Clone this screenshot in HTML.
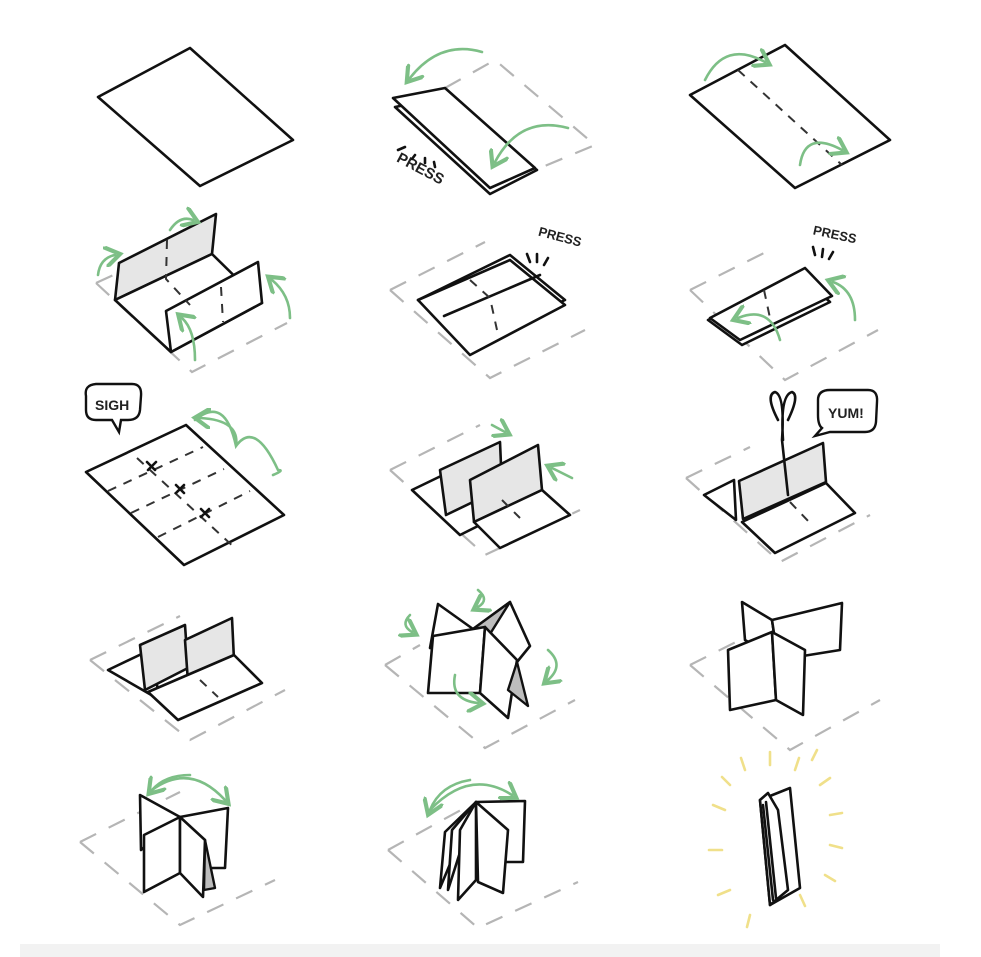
<!DOCTYPE html>
<html><head><meta charset="utf-8"><style>
html,body{margin:0;padding:0;background:#fff}
svg{display:block}
.k{fill:none;stroke:#111;stroke-width:2.6;stroke-linejoin:round;stroke-linecap:round}
.w{fill:#fff;stroke:#111;stroke-width:2.6;stroke-linejoin:round}
.g{fill:#e6e6e6;stroke:#111;stroke-width:2.6;stroke-linejoin:round}
.dg{fill:#bdbdbd;stroke:#111;stroke-width:2.4;stroke-linejoin:round}
.d{fill:none;stroke:#333;stroke-width:2;stroke-dasharray:9 8}
.o{fill:none;stroke:#b5b5b5;stroke-width:2.2;stroke-dasharray:18 14}
.a{fill:none;stroke:#7dbf86;stroke-width:2.6;stroke-linecap:round}
.y{fill:none;stroke:#f0e08a;stroke-width:2.6;stroke-linecap:round}
text{font-family:"Liberation Sans",sans-serif;font-weight:bold;fill:#222}
</style></head><body>
<svg width="981" height="957" viewBox="0 0 981 957">
<defs><marker id="ah" markerWidth="8" markerHeight="8" refX="4" refY="4" orient="auto"><path d="M0,0 L6,4 L0,8" fill="none" stroke="#7dbf86" stroke-width="1.6"/></marker></defs>
<rect x="20" y="944" width="920" height="13" fill="#f2f2f2"/>

<!-- Row 1 -->
<path class="w" d="M98,97 L190,48 L293,140 L200,186 Z"/>

<path class="o" d="M445,88 L495,60 L595,145 L540,168"/>
<path class="w" d="M395,107 L445,97 L537,170 L490,194 Z" fill="#ddd"/>
<path class="w" d="M393,98 L445,88 L535,168 L490,188 Z"/>
<path class="a" d="M482,52 Q440,40 410,78" marker-end="url(#ah)"/>
<path class="a" d="M568,128 Q520,115 495,162" marker-end="url(#ah)"/>
<text x="392" y="168" font-size="15" transform="rotate(28 408 172)">PRESS</text>
<path class="k" d="M405,147 l-7,3 M415,155 l-3,4 M425,158 l0,5 M434,162 l1,5" stroke-width="1.6"/>

<path class="w" d="M690,95 L785,45 L890,140 L795,188 Z"/>
<path class="d" d="M738,70 L842,165"/>
<path class="a" d="M705,80 Q725,40 765,62" marker-end="url(#ah)"/>
<path class="a" d="M800,165 Q805,130 842,150" marker-end="url(#ah)"/>

<!-- Row 2 -->
<path class="o" d="M96,283 L190,240 M96,283 L192,372 L287,323"/>
<path class="g" d="M115,300 L119,263 L216,214 L212,254 Z"/>
<path class="w" d="M115,300 L212,254 L262,303 L171,352 Z"/>
<path class="w" d="M171,352 L166,311 L258,262 L262,303 Z"/>
<path class="d" d="M167,240 L166,279 L190,305"/>
<path class="d" d="M221,287 L223,322"/>
<path class="a" d="M98,275 Q100,258 115,255" marker-end="url(#ah)"/>
<path class="a" d="M170,230 Q180,215 193,220" marker-end="url(#ah)"/>
<path class="a" d="M195,360 Q195,330 182,318" marker-end="url(#ah)"/>
<path class="a" d="M290,318 Q290,295 272,280" marker-end="url(#ah)"/>

<path class="o" d="M390,290 L485,242 M390,290 L490,378 L585,330"/>
<path class="w" d="M418,300 L510,255 L565,300 L470,345 Z"/>
<path class="w" d="M418,300 L510,260 L565,305 L470,355 Z"/>
<path class="k" d="M444,316 L540,275"/>
<path class="d" d="M470,280 L490,298 L497,330"/>
<text x="537" y="240" font-size="13" transform="rotate(15 555 240)">PRESS</text>
<path class="k" d="M530,262 l-3,-8 M537,262 l0,-8 M544,265 l4,-7" stroke-width="1.6"/>

<path class="o" d="M690,290 L770,250 M690,290 L785,380 L878,330"/>
<path class="w" d="M708,320 L800,275 L830,302 L742,345 Z" fill="#eee"/>
<path class="w" d="M710,318 L805,268 L832,296 L740,340 Z"/>
<path class="d" d="M764,290 L770,318"/>
<path class="a" d="M855,320 Q855,290 833,282" marker-end="url(#ah)"/>
<path class="a" d="M780,340 Q770,305 738,318" marker-end="url(#ah)"/>
<text x="812" y="238" font-size="13" transform="rotate(12 830 238)">PRESS</text>
<path class="k" d="M815,255 l-2,-8 M822,257 l1,-8 M829,259 l4,-7" stroke-width="1.6"/>

<!-- Row 3 -->
<path d="M86,396 Q84,385 96,384 L132,384 Q142,384 141,396 L140,410 Q139,420 128,420 L121,420 L119,432 L112,420 L96,420 Q86,420 86,410 Z" fill="#fff" stroke="#111" stroke-width="2.4"/>
<text x="95" y="410" font-size="14">SIGH</text>
<path class="w" d="M86,472 L186,425 L284,515 L184,565 Z"/>
<path class="d" d="M108,491 L203,447 M131,513 L224,469 M158,537 L250,491"/>
<path class="d" d="M137,458 L235,548"/>
<path class="k" d="M147,462 l8,8 M156,462 l-8,8 M176,485 l8,8 M184,485 l-8,8 M201,509 l8,8 M209,509 l-8,8" stroke-width="2"/>
<path class="a" d="M195,420 Q225,395 236,446 Q255,420 278,470 Q285,470 273,475 M236,446 Q240,420 200,418" marker-end="url(#ah)"/>

<path class="o" d="M390,470 L480,425 M390,470 L485,555 L580,510"/>
<path class="w" d="M412,490 L470,462 L520,505 L460,535 Z"/>
<path class="g" d="M440,470 L500,442 L502,488 L446,515 Z"/>
<path class="g" d="M470,480 L538,445 L542,490 L474,522 Z"/>
<path class="w" d="M474,522 L542,490 L570,515 L500,548 Z"/>
<path class="d" d="M502,500 L520,518"/>
<path class="a" d="M492,425 L505,432" marker-end="url(#ah)"/>
<path class="a" d="M572,478 L552,468" marker-end="url(#ah)"/>

<path class="o" d="M686,478 L750,447 M686,478 L780,562 L870,515"/>
<path class="w" d="M704,495 L734,480 L736,520 Z"/>
<path class="g" d="M739,481 L823,443 L826,482 L743,519 Z"/>
<path class="w" d="M742,522 L826,483 L855,513 L775,553 Z"/>
<path class="d" d="M790,502 L810,523"/>
<path class="k" d="M778,420 Q765,395 775,392 Q785,395 782,440 M788,420 Q800,395 792,392 Q780,395 783,440 M782,440 L788,495" stroke-width="3"/>
<path d="M818,400 Q818,390 830,390 L868,390 Q878,390 877,402 L876,422 Q875,432 865,432 L830,432 L815,436 L822,428 Q818,425 818,415 Z" fill="#fff" stroke="#111" stroke-width="2.4"/>
<text x="828" y="418" font-size="14">YUM!</text>

<!-- Row 4 -->
<path class="o" d="M90,660 L180,616 M90,660 L190,740 L285,690"/>
<path class="w" d="M108,670 L150,650 L160,700 Z"/>
<path class="g" d="M140,645 L185,625 L188,668 L145,690 Z"/>
<path class="g" d="M185,640 L232,618 L234,660 L188,682 Z"/>
<path class="w" d="M148,692 L234,655 L262,683 L178,720 Z"/>
<path class="d" d="M200,680 L218,697"/>

<path class="o" d="M385,665 L420,645 M385,665 L485,748 L575,700"/>
<path class="w" d="M438,604 L473,629 L430,648 Z"/>
<path class="w" d="M473,629 L510,602 L530,646 L517,662 Z"/>
<path class="dg" d="M473,629 L510,602 L480,650 Z"/>
<path class="w" d="M433,636 L485,627 L480,693 L428,693 Z"/>
<path class="w" d="M485,627 L517,660 L508,718 L480,693 Z"/>
<path class="dg" d="M517,662 L528,706 L508,690 Z"/>
<path class="a" d="M410,615 Q400,625 412,632" marker-end="url(#ah)"/>
<path class="a" d="M478,590 Q490,600 478,607" marker-end="url(#ah)"/>
<path class="a" d="M548,650 Q565,665 548,680" marker-end="url(#ah)"/>
<path class="a" d="M455,675 Q450,700 478,703" marker-end="url(#ah)"/>

<path class="o" d="M690,665 L760,630 M690,665 L790,750 L880,700"/>
<path class="w" d="M742,602 L772,620 L778,660 L745,640 Z"/>
<path class="w" d="M772,620 L842,603 L840,650 L778,660 Z"/>
<path class="w" d="M728,650 L772,632 L776,700 L730,710 Z"/>
<path class="w" d="M772,632 L805,650 L803,715 L776,700 Z"/>

<!-- Row 5 -->
<path class="o" d="M80,842 L180,792 M80,842 L180,925 L275,880"/>
<path class="w" d="M140,795 L180,817 L141,850 Z"/>
<path class="w" d="M180,817 L228,808 L225,868 L205,868 Z"/>
<path class="dg" d="M205,840 L215,888 L204,890 Z"/>
<path class="w" d="M144,835 L180,817 L180,873 L144,892 Z"/>
<path class="w" d="M180,817 L205,840 L203,897 L180,873 Z"/>
<path class="a" d="M152,790 Q190,762 225,800" marker-end="url(#ah)"/>
<path class="a" d="M190,775 Q165,775 152,790" marker-end="url(#ah)"/>

<path class="o" d="M388,850 L470,805 M388,850 L478,928 L578,882"/>
<path class="w" d="M476,802 L525,801 L523,862 L505,862 Z"/>
<path class="w" d="M476,802 L445,832 L440,888 Z"/>
<path class="w" d="M476,802 L452,830 L448,890 Z"/>
<path class="w" d="M476,802 L460,830 L458,900 L476,880 Z"/>
<path class="w" d="M476,802 L508,830 L503,893 L478,882 Z"/>
<path class="a" d="M430,810 Q470,768 512,795" marker-end="url(#ah)"/>
<path class="a" d="M470,780 Q440,785 430,810" marker-end="url(#ah)"/>

<path class="w" d="M760,800 L790,788 L800,888 L770,905 Z"/>
<path class="w" d="M760,800 L768,793 L778,810 L788,890 L770,905 Z" fill="#eee"/>
<path class="k" d="M763,805 L773,900 M766,802 L776,898"/>
<path class="y" d="M745,770 l-4,-12 M770,765 l0,-13 M795,770 l4,-12 M820,785 l10,-7 M830,815 l12,-2 M830,845 l12,3 M825,875 l10,6 M800,895 l5,11 M750,915 l-3,12 M730,890 l-12,5 M722,850 l-13,0 M725,810 l-12,-5 M812,760 l5,-10 M730,785 l-8,-8"/>
</svg>
</body></html>
